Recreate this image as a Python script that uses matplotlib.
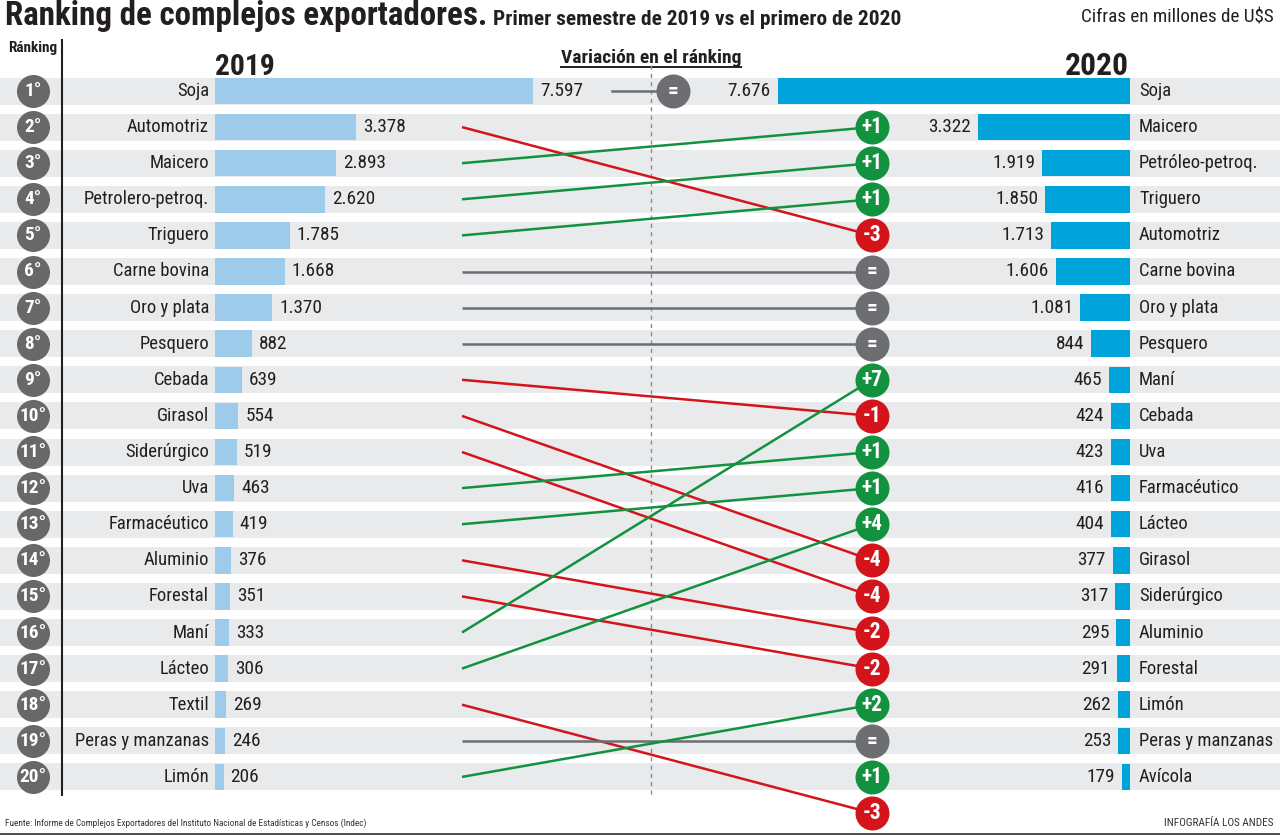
import matplotlib
matplotlib.use("Agg")
import matplotlib.pyplot as plt
from matplotlib import font_manager as fm
from matplotlib.font_manager import FontProperties

# ---------------- data ----------------
complejos_2019 = ["Soja", "Automotriz", "Maicero", "Petrolero-petroq.", "Triguero",
                  "Carne bovina", "Oro y plata", "Pesquero", "Cebada", "Girasol",
                  "Siderúrgico", "Uva", "Farmacéutico", "Aluminio", "Forestal",
                  "Maní", "Lácteo", "Textil", "Peras y manzanas", "Limón"]
valores_2019 = [7597, 3378, 2893, 2620, 1785, 1668, 1370, 882, 639, 554,
                519, 463, 419, 376, 351, 333, 306, 269, 246, 206]
complejos_2020 = ["Soja", "Maicero", "Petróleo-petroq.", "Triguero", "Automotriz",
                  "Carne bovina", "Oro y plata", "Pesquero", "Maní", "Cebada",
                  "Uva", "Farmacéutico", "Lácteo", "Girasol", "Siderúrgico",
                  "Aluminio", "Forestal", "Limón", "Peras y manzanas", "Avícola"]
valores_2020 = [7676, 3322, 1919, 1850, 1713, 1606, 1081, 844, 465, 424,
                423, 416, 404, 377, 317, 295, 291, 262, 253, 179]
# 2020 ranking of each 2019 complex (21 = out of the top 20)
rank_2020_de_2019 = [1, 5, 2, 3, 4, 6, 7, 8, 10, 14, 15, 11, 12, 16, 17, 9, 13, 21, 19, 18]
# 2019 ranking of each 2020 complex (21 = not in the 2019 top 20)
rank_2019_de_2020 = [1, 3, 4, 5, 2, 6, 7, 8, 16, 9, 12, 13, 17, 10, 11, 14, 15, 20, 19, 21]
ranking = list(range(1, 21))

titulo = "Ranking de complejos exportadores."
subtitulo = "Primer semestre de 2019 vs el primero de 2020"
unidad = "Cifras en millones de U$S"
fuente = "Fuente: Informe de Complejos Exportadores del Instituto Nacional de Estadísticas y Censos (Indec)"
credito = "INFOGRAFÍA LOS ANDES"

# ---------------- style / layout ----------------
W, H = 1280, 835
ROW0, STEP = 91.0, 36.1
GREEN, RED, GREY = "#12923f", "#d3141b", "#6d6e71"
BAND = "#e9eaec"
BAR_L, BAR_R = "#9dcbe9", "#00a3da"
TXT = "#231f20"


def rank_of_px(py):
    return 1 + (py - ROW0) / STEP


YLIM = (rank_of_px(H), rank_of_px(0))


def wnum(e):
    w = e.weight
    if isinstance(w, str):
        w = fm.weight_dict.get(w, 400)
    return w


def pick(want):
    entries = [e for e in fm.fontManager.ttflist if e.style == "normal"]
    named = ["Roboto Condensed", "Liberation Sans Narrow", "Open Sans Condensed",
             "Noto Sans Condensed", "Ubuntu Condensed", "Arial Narrow"]
    cond = []
    for n in named:
        c = [e for e in entries if e.name == n]
        if c:
            cond = c
            break
    if not cond:
        for fam in ["Noto Sans", "Open Sans", "Roboto", "DejaVu Sans", "Liberation Sans", "Inter", "Lato"]:
            c = [e for e in entries if e.name == fam and str(e.stretch) in ("condensed", "semi-condensed")]
            if c:
                cond = c
                break
    if cond:
        best = min(cond, key=lambda e: abs(wnum(e) - want))
        return FontProperties(fname=best.fname)
    return FontProperties(family=["Roboto", "DejaVu Sans"], weight="bold" if want >= 600 else "normal")


F_REG = pick(400)
F_BOLD = pick(700)
F_BLACK = pick(900)

fig = plt.figure(figsize=(W / 100, H / 100), dpi=100)
fig.patch.set_facecolor("white")
R = fig.canvas.get_renderer()


def fitted(fp, size, ref, maxw, maxsize=None):
    """Font sized so that `ref` is `maxw` px wide (never above maxsize)."""
    p = fp.copy()
    p.set_size(size)
    t = fig.text(0, 0, ref, fontproperties=p)
    w = t.get_window_extent(renderer=R).width
    t.remove()
    size = size * maxw / w
    if maxsize is not None:
        size = min(size, maxsize)
    p = fp.copy()
    p.set_size(size)
    return p


def new_ax(x0, x1, xlim, ylim=YLIM):
    ax = fig.add_axes([x0 / W, 0, (x1 - x0) / W, 1])
    ax.set_xlim(*xlim)
    ax.set_ylim(*ylim)
    ax.axis("off")
    ax.patch.set_alpha(0)
    return ax


ax_px = new_ax(0, W, (0, W), (H, 0))
ax_rows = new_ax(0, W, (0, W))

# row bands
ax_rows.barh(ranking, W, left=0, height=27 / STEP, color=BAND, zorder=0)
# dashed centre line
ax_rows.plot([651, 651], [rank_of_px(65), rank_of_px(795)], color="#8c8c8c",
             lw=1.0, dashes=(3, 3), zorder=1)
# ranking axis line
ax_rows.plot([62, 62], [rank_of_px(40), rank_of_px(795)], color=TXT, lw=1.5, zorder=2)

# rank circles
f_rank = fitted(F_BOLD, 13, "10°", 27, 14)
ax_rows.scatter([33] * len(ranking), ranking, s=(33 * 0.72) ** 2, color="#686868",
                linewidths=0, zorder=3)
for r in ranking:
    ax_rows.text(33, r, f"{r}°", ha="center", va="center", color="white",
                 fontproperties=f_rank, zorder=4)

# slope lines
for r_old, r_new in zip(ranking, rank_2020_de_2019):
    d = r_old - r_new
    col = GREEN if d > 0 else RED if d < 0 else GREY
    if r_old == 1 and r_new == 1:
        ax_rows.plot([612, 673], [r_old, r_new], color=GREY, lw=1.8, zorder=2)
    else:
        ax_rows.plot([462, 872], [r_old, r_new], color=col, lw=1.8, zorder=2,
                     solid_capstyle="butt")

# badges
badge_rank = list(ranking)
badge_delta = [rank_2019_de_2020[n - 1] - n for n in ranking]
for r_old, r_new in zip(ranking, rank_2020_de_2019):
    if r_new > 20:
        badge_rank.append(r_new)
        badge_delta.append(r_old - r_new)
f_badge = fitted(F_BLACK, 14.5, "+4", 23, 15.5)
for r, d in zip(badge_rank, badge_delta):
    col = GREEN if d > 0 else RED if d < 0 else GREY
    x = 673 if (r == 1 and d == 0) else 872
    ax_rows.scatter([x], [r], s=(34 * 0.72) ** 2, color=col, linewidths=0, zorder=5)
    lab = "=" if d == 0 else f"{d:+d}"
    ax_rows.text(x, r, lab, ha="center", va="center", color="white",
                 fontproperties=f_badge, zorder=6)

# category labels
f_lab = fitted(F_REG, 13, "Peras y manzanas", 133, 14.5)
for r, n in zip(ranking, complejos_2019):
    ax_rows.text(209, r, n, ha="right", va="center", color=TXT, fontproperties=f_lab)
for r, n in zip(ranking, complejos_2020):
    ax_rows.text(1139, r, n, ha="left", va="center", color=TXT, fontproperties=f_lab)


def fmt(v):
    return f"{v:,}".replace(",", ".")


f_val = fitted(F_REG, 13, "7.597", 43, 14.5)

# left bars (2019)
XMAX = 8000
K_L = 318 / 7597
K_R = 352 / 7676
ax_l = new_ax(215, 215 + XMAX * K_L, (0, XMAX))
ax_l.barh(ranking, valores_2019, height=26.5 / STEP, color=BAR_L, linewidth=0)
for r, v in zip(ranking, valores_2019):
    ax_l.annotate(fmt(v), (v, r), xytext=(7, 0), textcoords="offset pixels",
                  ha="left", va="center", color=TXT, fontproperties=f_val,
                  annotation_clip=False)

# right bars (2020)
ax_r = new_ax(1130 - XMAX * K_R, 1130, (XMAX, 0))
ax_r.barh(ranking, valores_2020, height=26.5 / STEP, color=BAR_R, linewidth=0)
for r, v in zip(ranking, valores_2020):
    ax_r.annotate(fmt(v), (v, r), xytext=(-7, 0), textcoords="offset pixels",
                  ha="right", va="center", color=TXT, fontproperties=f_val,
                  annotation_clip=False)

# ---------------- header / footer ----------------
tt = ax_px.text(5, 25, titulo, ha="left", va="baseline", color=TXT,
                fontproperties=fitted(F_BLACK, 21, titulo, 482, 25))
tx1 = tt.get_window_extent(renderer=R).x1
ax_px.text(tx1 + 6, 25, subtitulo, ha="left", va="baseline", color=TXT,
           fontproperties=fitted(F_BOLD, 17, subtitulo, 900 - tx1 - 6, 20))
ax_px.text(1274, 22, unidad, ha="right", va="baseline", color=TXT,
           fontproperties=fitted(F_REG, 12.5, unidad, 194, 14))
ax_px.text(33, 48, "Ránking", ha="center", va="center", color=TXT,
           fontproperties=fitted(F_BOLD, 10, "Ránking", 52, 11))
ax_px.text(245, 75, "2019", ha="center", va="baseline", color=TXT,
           fontproperties=fitted(F_BLACK, 22, "2019", 60, 24))
ax_px.text(1097, 75, "2020", ha="center", va="baseline", color=TXT,
           fontproperties=fitted(F_BLACK, 22, "2020", 64, 24))
tv = ax_px.text(651, 63, "Variación en el ránking", ha="center", va="baseline", color=TXT,
                fontproperties=fitted(F_BOLD, 12.5, "Variación en el ránking", 197, 14))
bb = tv.get_window_extent(renderer=R)
ax_px.plot([bb.x0, bb.x1], [67, 67], color=TXT, lw=1.4)

ax_px.text(5, 826, fuente, ha="left", va="baseline", color="#333333",
           fontproperties=fitted(F_REG, 8, fuente, 363, 9))
ax_px.text(1273, 826, credito, ha="right", va="baseline", color="#333333",
           fontproperties=fitted(F_REG, 8, credito, 110, 9))
ax_px.plot([0, W], [833.5, 833.5], color="#444444", lw=2)

fig.savefig("out.png", dpi=100, facecolor="white")
